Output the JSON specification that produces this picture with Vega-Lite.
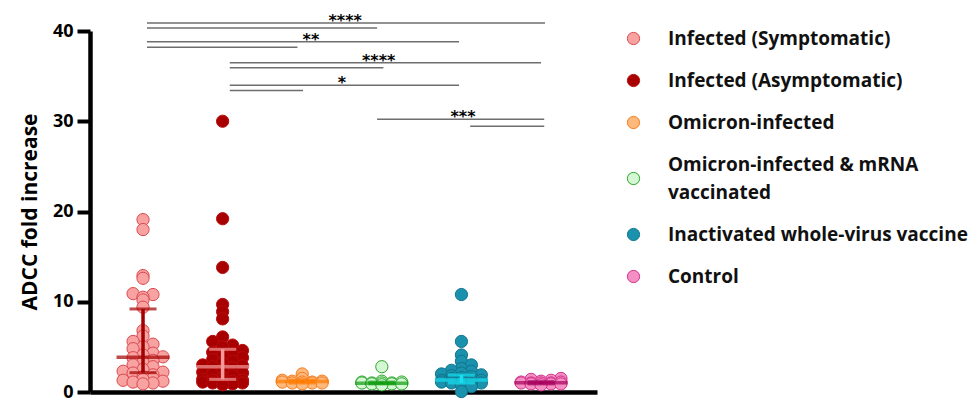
{
  "$schema": "https://vega.github.io/schema/vega-lite/v6.json",
  "width": 507,
  "height": 361,
  "autosize": {"type": "none"},
  "padding": {"left": 90, "top": 31, "right": 374, "bottom": 8},
  "background": "white",
  "config": {
    "view": {"stroke": null},
    "style": {"guide-label": {"lineHeight": 28}},
    "axis": {
      "grid": false,
      "domainColor": "#000000",
      "domainWidth": 4.5,
      "tickColor": "#000000",
      "labelColor": "#000000",
      "titleColor": "#000000",
      "labelFont": "Open Sans",
      "titleFont": "Open Sans"
    },
    "legend": {
      "orient": "none",
      "legendX": 534,
      "legendY": -2,
      "padding": 0,
      "rowPadding": 22,
      "symbolType": "circle",
      "symbolSize": 150,
      "symbolStrokeWidth": 1,
      "labelFont": "Open Sans",
      "labelFontSize": 19,
      "labelFontWeight": "bold",
      "labelColor": "#111111",
      "labelOffset": 25,
      "labelLimit": 400
    }
  },
  "datasets": {
    "responses": [
      {"group": "Infected (Symptomatic)", "value": 19.1},
      {"group": "Infected (Symptomatic)", "value": 18.0},
      {"group": "Infected (Symptomatic)", "value": 12.9},
      {"group": "Infected (Symptomatic)", "value": 12.6},
      {"group": "Infected (Symptomatic)", "value": 10.9},
      {"group": "Infected (Symptomatic)", "value": 10.8},
      {"group": "Infected (Symptomatic)", "value": 10.5},
      {"group": "Infected (Symptomatic)", "value": 10.2},
      {"group": "Infected (Symptomatic)", "value": 9.4},
      {"group": "Infected (Symptomatic)", "value": 6.8},
      {"group": "Infected (Symptomatic)", "value": 6.2},
      {"group": "Infected (Symptomatic)", "value": 5.6},
      {"group": "Infected (Symptomatic)", "value": 5.3},
      {"group": "Infected (Symptomatic)", "value": 5.0},
      {"group": "Infected (Symptomatic)", "value": 4.8},
      {"group": "Infected (Symptomatic)", "value": 4.3},
      {"group": "Infected (Symptomatic)", "value": 4.1},
      {"group": "Infected (Symptomatic)", "value": 3.9},
      {"group": "Infected (Symptomatic)", "value": 3.8},
      {"group": "Infected (Symptomatic)", "value": 3.5},
      {"group": "Infected (Symptomatic)", "value": 3.3},
      {"group": "Infected (Symptomatic)", "value": 3.0},
      {"group": "Infected (Symptomatic)", "value": 2.8},
      {"group": "Infected (Symptomatic)", "value": 2.5},
      {"group": "Infected (Symptomatic)", "value": 2.3},
      {"group": "Infected (Symptomatic)", "value": 2.2},
      {"group": "Infected (Symptomatic)", "value": 2.1},
      {"group": "Infected (Symptomatic)", "value": 1.9},
      {"group": "Infected (Symptomatic)", "value": 1.7},
      {"group": "Infected (Symptomatic)", "value": 1.5},
      {"group": "Infected (Symptomatic)", "value": 1.4},
      {"group": "Infected (Symptomatic)", "value": 1.3},
      {"group": "Infected (Symptomatic)", "value": 1.2},
      {"group": "Infected (Symptomatic)", "value": 1.1},
      {"group": "Infected (Symptomatic)", "value": 1.0},
      {"group": "Infected (Symptomatic)", "value": 0.9},
      {"group": "Infected (Asymptomatic)", "value": 30.0},
      {"group": "Infected (Asymptomatic)", "value": 19.2},
      {"group": "Infected (Asymptomatic)", "value": 13.8},
      {"group": "Infected (Asymptomatic)", "value": 9.7},
      {"group": "Infected (Asymptomatic)", "value": 8.9},
      {"group": "Infected (Asymptomatic)", "value": 8.1},
      {"group": "Infected (Asymptomatic)", "value": 6.1},
      {"group": "Infected (Asymptomatic)", "value": 5.6},
      {"group": "Infected (Asymptomatic)", "value": 5.2},
      {"group": "Infected (Asymptomatic)", "value": 5.0},
      {"group": "Infected (Asymptomatic)", "value": 4.6},
      {"group": "Infected (Asymptomatic)", "value": 4.4},
      {"group": "Infected (Asymptomatic)", "value": 4.2},
      {"group": "Infected (Asymptomatic)", "value": 4.0},
      {"group": "Infected (Asymptomatic)", "value": 3.8},
      {"group": "Infected (Asymptomatic)", "value": 3.6},
      {"group": "Infected (Asymptomatic)", "value": 3.4},
      {"group": "Infected (Asymptomatic)", "value": 3.2},
      {"group": "Infected (Asymptomatic)", "value": 3.0},
      {"group": "Infected (Asymptomatic)", "value": 2.9},
      {"group": "Infected (Asymptomatic)", "value": 2.8},
      {"group": "Infected (Asymptomatic)", "value": 2.7},
      {"group": "Infected (Asymptomatic)", "value": 2.5},
      {"group": "Infected (Asymptomatic)", "value": 2.4},
      {"group": "Infected (Asymptomatic)", "value": 2.2},
      {"group": "Infected (Asymptomatic)", "value": 2.1},
      {"group": "Infected (Asymptomatic)", "value": 2.0},
      {"group": "Infected (Asymptomatic)", "value": 1.8},
      {"group": "Infected (Asymptomatic)", "value": 1.6},
      {"group": "Infected (Asymptomatic)", "value": 1.5},
      {"group": "Infected (Asymptomatic)", "value": 1.4},
      {"group": "Infected (Asymptomatic)", "value": 1.3},
      {"group": "Infected (Asymptomatic)", "value": 1.3},
      {"group": "Infected (Asymptomatic)", "value": 1.2},
      {"group": "Infected (Asymptomatic)", "value": 1.2},
      {"group": "Infected (Asymptomatic)", "value": 1.1},
      {"group": "Infected (Asymptomatic)", "value": 1.0},
      {"group": "Infected (Asymptomatic)", "value": 1.0},
      {"group": "Infected (Asymptomatic)", "value": 0.9},
      {"group": "Infected (Asymptomatic)", "value": 0.8},
      {"group": "Omicron-infected", "value": 2.0},
      {"group": "Omicron-infected", "value": 1.5},
      {"group": "Omicron-infected", "value": 1.3},
      {"group": "Omicron-infected", "value": 1.2},
      {"group": "Omicron-infected", "value": 1.2},
      {"group": "Omicron-infected", "value": 1.1},
      {"group": "Omicron-infected", "value": 1.1},
      {"group": "Omicron-infected", "value": 1.1},
      {"group": "Omicron-infected", "value": 1.0},
      {"group": "Omicron-infected", "value": 1.0},
      {"group": "Omicron-infected", "value": 1.0},
      {"group": "Omicron-infected", "value": 0.9},
      {"group": "Omicron-infected & mRNA vaccinated", "value": 2.8},
      {"group": "Omicron-infected & mRNA vaccinated", "value": 1.2},
      {"group": "Omicron-infected & mRNA vaccinated", "value": 1.1},
      {"group": "Omicron-infected & mRNA vaccinated", "value": 1.1},
      {"group": "Omicron-infected & mRNA vaccinated", "value": 1.0},
      {"group": "Omicron-infected & mRNA vaccinated", "value": 1.0},
      {"group": "Omicron-infected & mRNA vaccinated", "value": 1.0},
      {"group": "Omicron-infected & mRNA vaccinated", "value": 1.0},
      {"group": "Omicron-infected & mRNA vaccinated", "value": 0.9},
      {"group": "Omicron-infected & mRNA vaccinated", "value": 0.9},
      {"group": "Omicron-infected & mRNA vaccinated", "value": 0.9},
      {"group": "Omicron-infected & mRNA vaccinated", "value": 0.8},
      {"group": "Inactivated whole-virus vaccine", "value": 10.8},
      {"group": "Inactivated whole-virus vaccine", "value": 5.6},
      {"group": "Inactivated whole-virus vaccine", "value": 4.1},
      {"group": "Inactivated whole-virus vaccine", "value": 3.4},
      {"group": "Inactivated whole-virus vaccine", "value": 3.0},
      {"group": "Inactivated whole-virus vaccine", "value": 2.6},
      {"group": "Inactivated whole-virus vaccine", "value": 2.4},
      {"group": "Inactivated whole-virus vaccine", "value": 2.3},
      {"group": "Inactivated whole-virus vaccine", "value": 2.1},
      {"group": "Inactivated whole-virus vaccine", "value": 2.0},
      {"group": "Inactivated whole-virus vaccine", "value": 1.9},
      {"group": "Inactivated whole-virus vaccine", "value": 1.8},
      {"group": "Inactivated whole-virus vaccine", "value": 1.7},
      {"group": "Inactivated whole-virus vaccine", "value": 1.6},
      {"group": "Inactivated whole-virus vaccine", "value": 1.5},
      {"group": "Inactivated whole-virus vaccine", "value": 1.4},
      {"group": "Inactivated whole-virus vaccine", "value": 1.4},
      {"group": "Inactivated whole-virus vaccine", "value": 1.3},
      {"group": "Inactivated whole-virus vaccine", "value": 1.3},
      {"group": "Inactivated whole-virus vaccine", "value": 1.2},
      {"group": "Inactivated whole-virus vaccine", "value": 1.2},
      {"group": "Inactivated whole-virus vaccine", "value": 1.1},
      {"group": "Inactivated whole-virus vaccine", "value": 1.1},
      {"group": "Inactivated whole-virus vaccine", "value": 1.0},
      {"group": "Inactivated whole-virus vaccine", "value": 1.0},
      {"group": "Inactivated whole-virus vaccine", "value": 0.9},
      {"group": "Inactivated whole-virus vaccine", "value": 0.8},
      {"group": "Inactivated whole-virus vaccine", "value": 0.6},
      {"group": "Inactivated whole-virus vaccine", "value": 0.05},
      {"group": "Control", "value": 1.5},
      {"group": "Control", "value": 1.4},
      {"group": "Control", "value": 1.3},
      {"group": "Control", "value": 1.2},
      {"group": "Control", "value": 1.1},
      {"group": "Control", "value": 1.1},
      {"group": "Control", "value": 1.0},
      {"group": "Control", "value": 1.0},
      {"group": "Control", "value": 1.0},
      {"group": "Control", "value": 1.0},
      {"group": "Control", "value": 0.9},
      {"group": "Control", "value": 0.9},
      {"group": "Control", "value": 0.9},
      {"group": "Control", "value": 0.8}
    ],
    "medians": [
      {"group": "Infected (Symptomatic)", "med": 3.84, "q1": 2.14, "q3": 9.2},
      {"group": "Infected (Asymptomatic)", "med": 2.8, "q1": 1.4, "q3": 4.73},
      {"group": "Omicron-infected", "med": 1.15, "q1": 1.0, "q3": 1.3},
      {"group": "Omicron-infected & mRNA vaccinated", "med": 0.96, "q1": 0.9, "q3": 1.1},
      {"group": "Inactivated whole-virus vaccine", "med": 1.33, "q1": 1.0, "q3": 1.88},
      {"group": "Control", "med": 1.03, "q1": 0.9, "q3": 1.15}
    ],
    "comparisons": [
      {"from": 1.05, "to": 6.05, "level": 40.89},
      {"from": 1.05, "to": 3.94, "level": 40.33},
      {"from": 1.05, "to": 4.97, "level": 38.81},
      {"from": 1.05, "to": 2.94, "level": 38.2},
      {"from": 2.09, "to": 6.0, "level": 36.49},
      {"from": 2.09, "to": 4.02, "level": 35.93},
      {"from": 2.09, "to": 4.97, "level": 34.0},
      {"from": 2.09, "to": 3.01, "level": 33.4},
      {"from": 3.94, "to": 6.04, "level": 30.22},
      {"from": 5.11, "to": 6.04, "level": 29.44}
    ],
    "stars": [
      {"at": 3.54, "level": 40.89, "p": "****"},
      {"at": 3.11, "level": 38.81, "p": "**"},
      {"at": 3.96, "level": 36.49, "p": "****"},
      {"at": 3.5, "level": 34.0, "p": "*"},
      {"at": 5.02, "level": 30.22, "p": "***"}
    ]
  },
  "layer": [
    {
      "data": {"name": "responses"},
      "transform": [
        {"calculate": "indexof(['Infected (Symptomatic)', 'Infected (Asymptomatic)', 'Omicron-infected', 'Omicron-infected & mRNA vaccinated', 'Inactivated whole-virus vaccine', 'Control'], datum.group) + 1", "as": "gi"},
        {"calculate": "floor(datum.value / 0.8)", "as": "band"},
        {"window": [{"op": "row_number", "as": "r"}], "groupby": ["group", "band"], "sort": [{"field": "value", "order": "ascending"}]},
        {"calculate": "(datum.r - 1) % 5", "as": "k"},
        {"calculate": "datum.k == 0 ? 0 : (datum.k % 2 == 1 ? (datum.k + 1) / 2 : -datum.k / 2)", "as": "slot"},
        {"calculate": "datum.gi + datum.slot * 0.125", "as": "xpos"}
      ],
      "mark": {"type": "point", "shape": "circle", "filled": true, "size": 150, "strokeWidth": 1, "opacity": 1},
      "encoding": {
        "x": {
          "field": "xpos", "type": "quantitative",
          "scale": {"domain": [0.334, 6.703], "nice": false, "zero": false},
          "axis": {"title": null, "labels": false, "ticks": false, "domain": true}
        },
        "y": {
          "field": "value", "type": "quantitative",
          "scale": {"domain": [0, 40], "nice": false},
          "axis": {
            "title": "ADCC fold increase",
            "titleFontSize": 21, "titleFontWeight": "bold", "titlePadding": 12,
            "values": [0, 10, 20, 30, 40],
            "labelFontSize": 18, "labelFontWeight": "bold", "labelPadding": 4,
            "tickSize": 13, "tickWidth": 4
          }
        },
        "fill": {
          "field": "group", "type": "nominal",
          "scale": {
            "domain": ["Infected (Symptomatic)", "Infected (Asymptomatic)", "Omicron-infected", "Omicron-infected & mRNA vaccinated", "Inactivated whole-virus vaccine", "Control"],
            "range": ["#F9A2A2", "#A80000", "#FDB97C", "#D4F7D4", "#1A92AE", "#F38FC3"]
          },
          "legend": {
            "title": null,
            "labelExpr": "datum.label == 'Omicron-infected & mRNA vaccinated' ? ['Omicron-infected & mRNA', 'vaccinated'] : datum.label",
            "labelBaseline": {"expr": "datum.value == 'Omicron-infected & mRNA vaccinated' ? 'line-bottom' : 'middle'"}
          }
        },
        "stroke": {
          "field": "group", "type": "nominal",
          "scale": {
            "domain": ["Infected (Symptomatic)", "Infected (Asymptomatic)", "Omicron-infected", "Omicron-infected & mRNA vaccinated", "Inactivated whole-virus vaccine", "Control"],
            "range": ["#D94A4F", "#B80C0C", "#F47C20", "#2DA52D", "#10758C", "#D3308A"]
          },
          "legend": {
            "title": null,
            "labelExpr": "datum.label == 'Omicron-infected & mRNA vaccinated' ? ['Omicron-infected & mRNA', 'vaccinated'] : datum.label",
            "labelBaseline": {"expr": "datum.value == 'Omicron-infected & mRNA vaccinated' ? 'line-bottom' : 'middle'"}
          }
        }
      }
    },
    {
      "data": {"name": "medians"},
      "transform": [
        {"calculate": "indexof(['Infected (Symptomatic)', 'Infected (Asymptomatic)', 'Omicron-infected', 'Omicron-infected & mRNA vaccinated', 'Inactivated whole-virus vaccine', 'Control'], datum.group) + 1", "as": "gi"}
      ],
      "layer": [
        {
          "mark": {"type": "rule", "strokeWidth": 3.5},
          "encoding": {
            "x": {"field": "gi", "type": "quantitative"},
            "y": {"field": "q1", "type": "quantitative"},
            "y2": {"field": "q3"}
          }
        },
        {
          "transform": [{"fold": ["q1", "q3"], "as": ["bound", "edge"]}],
          "mark": {"type": "tick", "orient": "horizontal", "size": 27, "thickness": 3},
          "encoding": {
            "x": {"field": "gi", "type": "quantitative"},
            "y": {"field": "edge", "type": "quantitative"}
          }
        },
        {
          "mark": {"type": "tick", "orient": "horizontal", "size": 53, "thickness": 3.5},
          "encoding": {
            "x": {"field": "gi", "type": "quantitative"},
            "y": {"field": "med", "type": "quantitative"}
          }
        }
      ],
      "encoding": {
        "color": {
          "field": "group", "type": "nominal",
          "scale": {
            "domain": ["Infected (Symptomatic)", "Infected (Asymptomatic)", "Omicron-infected", "Omicron-infected & mRNA vaccinated", "Inactivated whole-virus vaccine", "Control"],
            "range": ["#A30000", "#F59A9A", "#FF7A00", "#0E9B0E", "#16E0F0", "#A5005C"]
          },
          "legend": null
        }
      }
    },
    {
      "data": {"name": "comparisons"},
      "mark": {"type": "rule", "color": "#6e6e6e", "strokeWidth": 1.5},
      "encoding": {
        "x": {"field": "from", "type": "quantitative"},
        "x2": {"field": "to"},
        "y": {"field": "level", "type": "quantitative"}
      }
    },
    {
      "data": {"name": "stars"},
      "mark": {"type": "text", "font": "DejaVu Sans", "fontSize": 16, "fontWeight": "bold", "baseline": "alphabetic", "align": "center", "color": "#000000", "dy": 3},
      "encoding": {
        "x": {"field": "at", "type": "quantitative"},
        "y": {"field": "level", "type": "quantitative"},
        "text": {"field": "p"}
      }
    }
  ]
}
